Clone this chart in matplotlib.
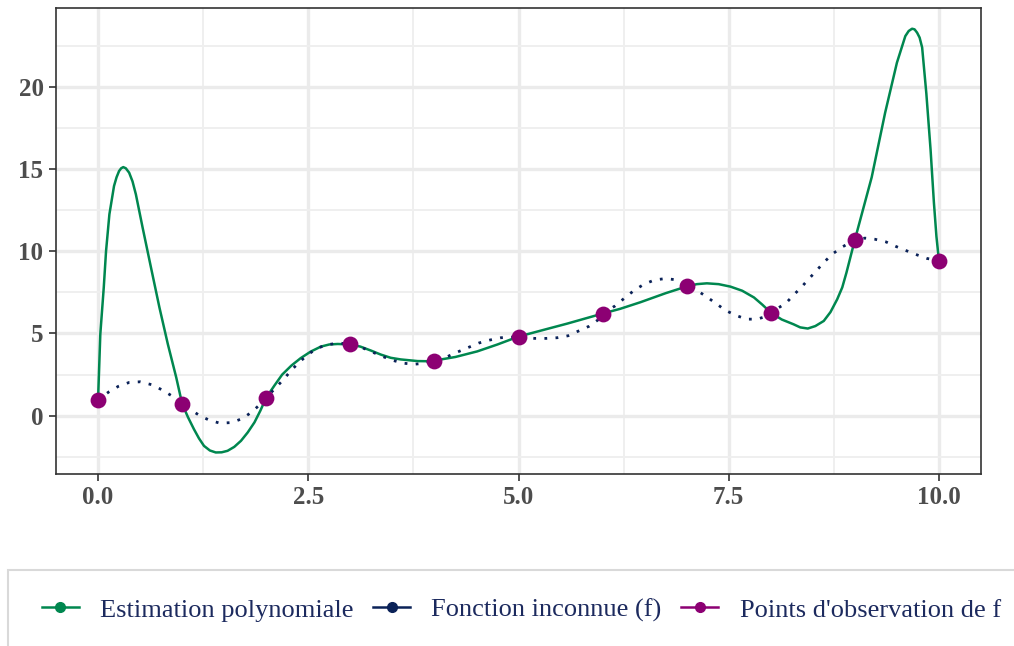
import matplotlib
matplotlib.use("Agg")
import matplotlib.pyplot as plt
from matplotlib.patches import Rectangle
from matplotlib.lines import Line2D

# Points d'observation de f
obs_x = [0, 1, 2, 3, 4, 5, 6, 7, 8, 9, 10]
obs_y = [0.97, 0.72, 1.1, 4.33, 3.35, 4.8, 6.21, 7.86, 6.27, 10.7, 9.43]

# Fonction inconnue (f)
f_x = [0.0, 0.13, 0.24, 0.37, 0.50, 0.64, 0.76, 0.875, 1.0, 1.08, 1.20, 1.32,
       1.45, 1.59, 1.72, 1.83, 1.93, 2.0, 2.11, 2.21, 2.30, 2.39, 2.49, 2.60,
       2.73, 2.87, 3.0, 3.12, 3.24, 3.37, 3.50, 3.63, 3.76, 3.90, 4.0, 4.15,
       4.27, 4.40, 4.53, 4.66, 4.79, 5.0, 5.19, 5.33, 5.46, 5.59, 5.71, 5.84,
       5.95, 6.0, 6.15, 6.26, 6.37, 6.49, 6.62, 6.75, 6.88, 7.0, 7.12, 7.24,
       7.35, 7.46, 7.58, 7.71, 7.84, 7.96, 8.0, 8.18, 8.27, 8.37, 8.46, 8.55,
       8.64, 8.74, 8.85, 9.0, 9.12, 9.24, 9.37, 9.49, 9.62, 9.75, 9.86, 10.0]
f_y = [0.97, 1.45, 1.78, 2.02, 2.06, 1.88, 1.57, 1.21, 0.72, 0.44, 0.03, -0.27,
       -0.46, -0.42, -0.17, 0.23, 0.70, 1.1, 1.68, 2.23, 2.77, 3.24, 3.69, 4.09,
       4.32, 4.42, 4.33, 4.18, 3.92, 3.63, 3.37, 3.19, 3.13, 3.19, 3.35, 3.58,
       3.86, 4.14, 4.42, 4.6, 4.74, 4.8, 4.70, 4.70, 4.74, 4.86, 5.14, 5.44,
       5.84, 6.21, 6.68, 7.15, 7.6, 7.99, 8.26, 8.34, 8.26, 7.86, 7.63, 7.22,
       6.82, 6.41, 6.11, 5.87, 5.87, 6.07, 6.27, 6.84, 7.33, 7.85, 8.36, 8.86,
       9.37, 9.86, 10.26, 10.7, 10.8, 10.73, 10.57, 10.29, 10.02, 9.76, 9.56, 9.43]

# Estimation polynomiale
p_x = [0.0, 0.027, 0.068, 0.095, 0.135, 0.19, 0.22, 0.25, 0.275, 0.30, 0.33,
       0.37, 0.41, 0.45, 0.53, 0.63, 0.73, 0.83, 0.93, 1.0, 1.07, 1.14, 1.2,
       1.26, 1.33, 1.40, 1.47, 1.54, 1.62, 1.70, 1.78, 1.86, 1.93, 2.0, 2.1,
       2.19, 2.3, 2.41, 2.53, 2.65, 2.75, 2.85, 3.0, 3.12, 3.25, 3.36, 3.48,
       3.6, 3.7, 3.8, 3.92, 4.0, 4.25, 4.51, 4.75, 5.0, 5.3, 5.58, 6.0, 6.21,
       6.45, 6.75, 7.0, 7.12, 7.24, 7.38, 7.52, 7.66, 7.80, 7.9, 8.0, 8.13,
       8.27, 8.35, 8.44, 8.53, 8.63, 8.71, 8.79, 8.85, 8.9, 9.0, 9.1, 9.2,
       9.36, 9.5, 9.6, 9.64, 9.68, 9.71, 9.74, 9.77, 9.8, 9.85, 9.9, 9.94,
       9.97, 10.0]
p_y = [0.97, 4.96, 7.8, 10.0, 12.25, 13.97, 14.5, 14.88, 15.05, 15.12, 15.05,
       14.78, 14.25, 13.46, 11.44, 9.0, 6.58, 4.35, 2.32, 0.72, -0.1, -0.82, -1.38,
       -1.84, -2.12, -2.24, -2.23, -2.14, -1.9, -1.53, -1.02, -0.41, 0.3, 1.1, 1.85,
       2.5, 3.05, 3.5, 3.9, 4.2, 4.33, 4.36, 4.33, 4.2, 3.95, 3.72, 3.52,
       3.42, 3.37, 3.32, 3.31, 3.35, 3.57, 3.91, 4.33, 4.81, 5.22, 5.6, 6.21, 6.5,
       6.9, 7.45, 7.86, 8.0, 8.05, 8.0, 7.85, 7.6, 7.19, 6.75, 6.27, 5.85,
       5.56, 5.37, 5.3, 5.45, 5.76, 6.3, 7.08, 7.8, 8.7, 10.7, 12.6, 14.5,
       18.43, 21.47, 23.09, 23.4, 23.54, 23.5, 23.3, 23.0, 22.4, 19.6, 16.2, 12.96,
       10.9, 9.43]

green = "#00874F"
navy = "#0B2258"
purple = "#8C0073"
txt_navy = "#1C2A5E"

plt.rcParams["font.family"] = ["Liberation Serif", "DejaVu Serif"]

fig = plt.figure(figsize=(10.14, 6.46), dpi=100)
ax = fig.add_axes([56 / 1014, 1 - 474 / 646, 925 / 1014, 466 / 646])

ax.plot(p_x, p_y, color=green, lw=1.8, zorder=3)
ax.plot(f_x, f_y, color=navy, lw=2.0, linestyle=(0, (1, 3)), zorder=3)
ax.scatter(obs_x, obs_y, s=130, color=purple, zorder=4, linewidths=0)

ax.set_xlim(-0.5, 10.5)
ax.set_ylim(-3.55, 24.8)
ax.set_xticks([0, 2.5, 5, 7.5, 10])
ax.set_xticklabels(["0.0", "2.5", "5.0", "7.5", "10.0"])
ax.set_yticks([0, 5, 10, 15, 20])
ax.set_xticks([1.25, 3.75, 6.25, 8.75], minor=True)
ax.set_yticks([-2.5, 2.5, 7.5, 12.5, 17.5, 22.5], minor=True)

ax.grid(True, which="major", color="#EBEBEB", lw=2.4, zorder=0)
ax.grid(True, which="minor", color="#EFEFEF", lw=1.4, zorder=0)
ax.set_axisbelow(True)

for sp in ax.spines.values():
    sp.set_color("#333333")
    sp.set_linewidth(1.2)

ax.tick_params(which="major", length=5, width=1.2, color="#333333",
               labelsize=18, labelcolor="#4D4D4D", pad=4)
ax.tick_params(which="minor", length=0)
for lab in ax.get_xticklabels() + ax.get_yticklabels():
    lab.set_fontweight("bold")

# cadre de la légende (coupé par le bord de la figure)
fig.patches.append(Rectangle((8 / 1014, -0.05), 1.1, (646 - 570) / 646 + 0.05,
                             transform=fig.transFigure, fill=False,
                             edgecolor="#D9D9D9", lw=1.5))

handles = [
    Line2D([], [], color=green, lw=1.8, marker="o", markersize=7),
    Line2D([], [], color=navy, lw=1.8, marker="o", markersize=7),
    Line2D([], [], color=purple, lw=1.8, marker="o", markersize=7),
]
labels = ["Estimation polynomiale", "Fonction inconnue (f)", "Points d'observation de f"]
leg = fig.legend(handles, labels, loc="center left", ncol=3,
                 bbox_to_anchor=(42 / 1014, 1 - 610 / 646), frameon=False,
                 fontsize=19, handlelength=1.4, handletextpad=0.8,
                 columnspacing=0.75, borderpad=0, borderaxespad=0)
for t in leg.get_texts():
    t.set_color(txt_navy)

fig.savefig("out.png", dpi=100)
